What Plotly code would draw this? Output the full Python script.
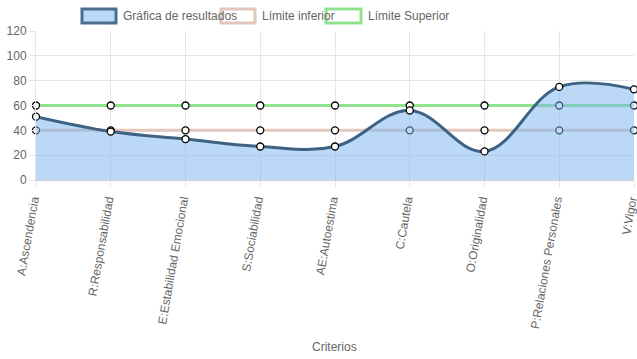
import plotly.graph_objects as go

categorias = ["A:Ascendencia", "R:Responsabilidad", "E:Estabilidad Emocional",
              "S:Sociabilidad", "AE:Autoestima", "C:Cautela", "O:Originalidad",
              "P:Relaciones Personales", "V:Vigor"]
resultados = [51, 39, 33, 27, 27, 56, 23, 75, 73]
limite_inferior = [40, 40, 40, 40, 40, 40, 40, 40, 40]
limite_superior = [60, 60, 60, 60, 60, 60, 60, 60, 60]
nombres = ["Gráfica de resultados", "Límite inferior", "Límite Superior"]

FONT = "Liberation Sans, Arial, Helvetica, sans-serif"
GREY = "#666666"
marker = dict(size=7, color="white", line=dict(color="black", width=1.3))

fig = go.Figure()
fig.add_trace(go.Scatter(x=categorias, y=limite_superior, mode="lines+markers",
                         line=dict(color="#8fe38f", width=3), marker=marker,
                         showlegend=False, cliponaxis=False))
fig.add_trace(go.Scatter(x=categorias, y=limite_inferior, mode="lines+markers",
                         line=dict(color="#e2c7bd", width=3), marker=marker,
                         showlegend=False, cliponaxis=False))
fig.add_trace(go.Scatter(x=categorias, y=resultados, mode="lines+markers",
                         line=dict(color="#3e6283", width=3, shape="spline", smoothing=1.1),
                         fill="tozeroy", fillcolor="rgba(120,180,240,0.5)",
                         marker=marker, showlegend=False, cliponaxis=False))

W, H = 637, 359
L, R, T, B = 36, 634, 31, 180


def px(x):
    return (x - L) / (R - L)


def py(y):
    return (B - y) / (B - T)


legend_items = [
    (nombres[0], "#b9d8f5", "#4a6f90", 82, 116),
    (nombres[1], "#ffffff", "#e2c7bd", 221, 255),
    (nombres[2], "#ffffff", "#8fe38f", 326, 361),
]
shapes = []
annotations = []
for name, fc, lc, x0, x1 in legend_items:
    shapes.append(dict(type="rect", xref="paper", yref="paper",
                       x0=px(x0), x1=px(x1), y0=py(23), y1=py(9),
                       fillcolor=fc, line=dict(color=lc, width=3)))
    annotations.append(dict(text=name, xref="paper", yref="paper",
                            x=px(x1 + 5), y=py(16),
                            xanchor="left", yanchor="middle", showarrow=False,
                            font=dict(family=FONT, size=12, color=GREY)))
annotations.append(dict(text="Criterios", xref="paper", yref="paper",
                        x=px(334), y=py(347),
                        xanchor="center", yanchor="middle", showarrow=False,
                        font=dict(family=FONT, size=12, color=GREY)))

fig.update_layout(
    width=W, height=H,
    margin=dict(l=L, r=W - R, t=T, b=H - B),
    paper_bgcolor="white", plot_bgcolor="white",
    font=dict(family=FONT, size=12, color=GREY),
    shapes=shapes, annotations=annotations,
    xaxis=dict(type="category", range=[0, 8], showgrid=True, gridcolor="#e6e6e6",
               tickangle=-80, ticks="outside", ticklen=6, tickcolor="#e6e6e6",
               ticklabelshift=-3, ticklabelstandoff=1,
               showline=True, linecolor="#d0d0d0", automargin=False,
               tickfont=dict(family=FONT, size=12, color=GREY)),
    yaxis=dict(range=[0, 120], dtick=20, showgrid=True, gridcolor="#e6e6e6",
               ticks="outside", ticklen=6, tickcolor="#e6e6e6",
               zeroline=True, zerolinecolor="#d0d0d0", zerolinewidth=1,
               showline=True, linecolor="#e6e6e6", automargin=False,
               tickfont=dict(family=FONT, size=12, color=GREY)),
)
fig.write_html("out.html",
               config={"displayModeBar": False},
               post_script="document.body.style.margin='0';"
                           "document.body.style.overflow='hidden';")
